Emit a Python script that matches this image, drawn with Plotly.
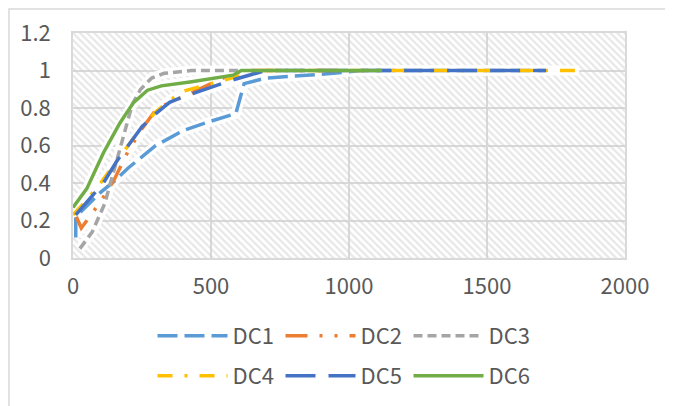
import plotly.graph_objects as go

# ---- data ----
series_names = ["DC1", "DC2", "DC3", "DC4", "DC5", "DC6"]

dc1_x = [10, 10, 100, 150, 200, 250, 300, 400, 500, 590, 620, 700, 900, 1050, 1710]
dc1_y = [0.11, 0.22, 0.35, 0.41, 0.48, 0.54, 0.60, 0.68, 0.73, 0.77, 0.93, 0.96, 0.98, 1.0, 1.0]

dc2_x = [12, 30, 70, 100, 150, 200, 250, 300, 350, 400, 500, 560, 620, 1000]
dc2_y = [0.22, 0.16, 0.24, 0.30, 0.42, 0.57, 0.69, 0.79, 0.83, 0.86, 0.93, 0.97, 1.0, 1.0]

dc3_x = [25, 70, 115, 150, 190, 215, 245, 285, 330, 430, 600]
dc3_y = [0.05, 0.14, 0.29, 0.48, 0.69, 0.82, 0.90, 0.96, 0.985, 1.0, 1.0]

dc4_x = [0, 50, 100, 150, 200, 250, 300, 350, 400, 500, 600, 700, 1834]
dc4_y = [0.23, 0.31, 0.40, 0.50, 0.60, 0.70, 0.78, 0.84, 0.89, 0.93, 0.97, 1.0, 1.0]

dc5_x = [10, 70, 110, 160, 200, 250, 300, 350, 400, 500, 580, 650, 700, 1714]
dc5_y = [0.23, 0.33, 0.40, 0.52, 0.60, 0.70, 0.77, 0.83, 0.86, 0.91, 0.95, 0.98, 1.0, 1.0]

dc6_x = [0, 50, 110, 170, 220, 270, 320, 430, 580, 610, 1120]
dc6_y = [0.27, 0.37, 0.56, 0.72, 0.83, 0.895, 0.918, 0.94, 0.975, 1.0, 1.0]

x_range = [0, 2000]
y_range = [0, 1.2]
x_ticks = [0, 500, 1000, 1500, 2000]
y_ticks = [0, 0.2, 0.4, 0.6, 0.8, 1, 1.2]
y_tick_labels = ["0", "0.2", "0.4", "0.6", "0.8", "1", "1.2"]

# ---- styles ----
colors = ["#5B9BD5", "#ED7D31", "#A5A5A5", "#FFC000", "#4472C4", "#70AD47"]
dashes = ["20px,7px", "22px,12px,3px,12px,3px,12px", "9px,5px",
          "15px,12px,3px,12px", "30px,13px", "solid"]
xs = [dc1_x, dc2_x, dc3_x, dc4_x, dc5_x, dc6_x]
ys = [dc1_y, dc2_y, dc3_y, dc4_y, dc5_y, dc6_y]

TXT = "#595959"
GRID = "#D9D9D9"
FONT = "Noto Sans CJK SC, Noto Sans, sans-serif"

W, H = 673, 406
OFF = 8  # page body margin offset
PL, PT, PW, PH = 73 - OFF, 33 - OFF, 552, 225

fig = go.Figure()

# hatched plot-area background
fig.add_trace(go.Scatter(
    x=[x_range[0], x_range[1], x_range[1], x_range[0], x_range[0]],
    y=[y_range[0], y_range[0], y_range[1], y_range[1], y_range[0]],
    mode="lines", line=dict(width=0), fill="toself",
    fillcolor="rgba(0,0,0,0)",
    fillpattern=dict(shape="\\", fgcolor="#CFCFCF", bgcolor="rgba(0,0,0,0)",
                     size=5, solidity=0.45),
    showlegend=False, hoverinfo="skip"))

# white glow under each line
for x, y in zip(xs, ys):
    fig.add_trace(go.Scatter(x=x, y=y, mode="lines",
                             line=dict(color="rgba(255,255,255,0.95)", width=10),
                             showlegend=False, hoverinfo="skip"))

for i, (name, x, y) in enumerate(zip(series_names, xs, ys)):
    fig.add_trace(go.Scatter(
        x=x, y=y, mode="lines", name=name,
        line=dict(color=colors[i], width=3.5, dash=dashes[i]),
        legend="legend" if i < 3 else "legend2"))

leg_common = dict(orientation="h", xanchor="center", x=0.5, xref="container",
                  yref="container", yanchor="middle",
                  font=dict(size=22, color=TXT, family=FONT),
                  itemwidth=70, entrywidth=43, bgcolor="rgba(0,0,0,0)",
                  traceorder="normal")

fig.update_layout(
    width=W, height=H,
    margin=dict(l=PL, r=W - PL - PW, t=PT, b=H - PT - PH, autoexpand=False),
    paper_bgcolor="white", plot_bgcolor="white",
    font=dict(family=FONT, color=TXT, size=22),
    legend=dict(y=1 - (336 - OFF) / H, **leg_common),
    legend2=dict(y=1 - (376 - OFF) / H, **leg_common),
    xaxis=dict(range=x_range, tickvals=x_ticks, showgrid=True, gridcolor=GRID,
               gridwidth=1.5, zeroline=False, showline=True, linecolor=GRID,
               linewidth=1.5, mirror=True, ticks="", ticklabelstandoff=8,
               tickfont=dict(size=22, color=TXT, family=FONT)),
    yaxis=dict(range=y_range, tickvals=y_ticks, ticktext=y_tick_labels,
               showgrid=True, gridcolor=GRID, gridwidth=1.5, zeroline=False,
               showline=True, linecolor=GRID, linewidth=1.5, mirror=True,
               ticks="", ticklabelstandoff=16,
               tickfont=dict(size=22, color=TXT, family=FONT)),
    shapes=[dict(type="rect", xref="paper", yref="paper",
                 x0=(1 - PL) / PW, x1=(W + 20 - PL) / PW,
                 y0=(PT + PH - H - 20) / PH, y1=(PT + PH - 1) / PH,
                 line=dict(color=GRID, width=1.5), fillcolor="rgba(0,0,0,0)",
                 layer="below")],
)

fig.write_html("out.html")
